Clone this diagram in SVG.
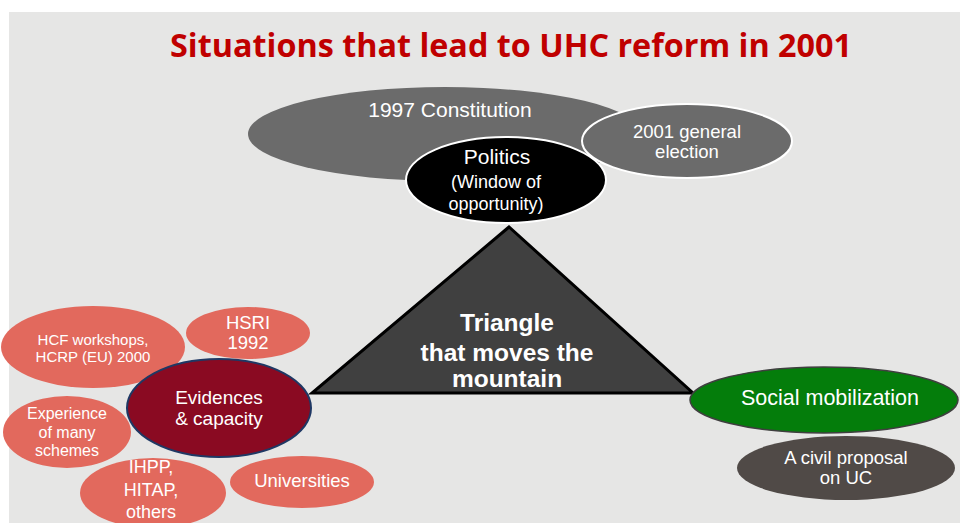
<svg xmlns="http://www.w3.org/2000/svg" width="960" height="523" viewBox="0 0 960 523">
  <style>
    .t { font-family: "Liberation Sans", Arial, sans-serif; fill: #ffffff; text-anchor: middle; }
    .salmon { fill: #e2695d; }
    .gray { fill: #6b6b6b; }
    .ring { stroke: #ffffff; stroke-width: 2; }
  </style>
  <!-- page background -->
  <rect x="0" y="0" width="960" height="523" fill="#ffffff"/>
  <rect x="9" y="12" width="951" height="511" fill="#e6e6e5"/>

  <text x="511" y="57" font-family="'Open Sans', 'Liberation Sans', sans-serif" font-weight="bold" font-size="32" fill="#c00000" text-anchor="middle" textLength="682" lengthAdjust="spacingAndGlyphs">Situations that lead to UHC reform in 2001</text>

  <g id="connectors"/>

  <!-- top: political context -->
  <g id="constitution">
    <ellipse class="gray" cx="445" cy="134" rx="197" ry="47"/>
    <text class="t" x="450" y="117" font-size="21">1997 Constitution</text>
  </g>
  <g id="election">
    <ellipse class="gray ring" cx="687" cy="141" rx="105" ry="37"/>
    <text class="t" x="687" y="138" font-size="18.5">2001 general</text>
    <text class="t" x="687" y="158" font-size="18.5">election</text>
  </g>

  <!-- central triangle -->
  <g id="triangle">
    <polygon points="509,227 312,393 693,393" fill="#404040" stroke="#000000" stroke-width="3" stroke-linejoin="miter"/>
    <text class="t" x="507" y="331" font-size="24.5" font-weight="bold">Triangle</text>
    <text class="t" x="507" y="361" font-size="24.5" font-weight="bold">that moves the</text>
    <text class="t" x="507" y="387" font-size="24.5" font-weight="bold">mountain</text>
  </g>

  <g id="politics">
    <ellipse cx="506" cy="180" rx="100" ry="43" fill="#000000" class="ring"/>
    <text class="t" x="497" y="164" font-size="21">Politics</text>
    <text class="t" x="496" y="188" font-size="18">(Window of</text>
    <text class="t" x="496" y="210" font-size="18">opportunity)</text>
  </g>

  <!-- left: evidence cluster -->
  <g id="hcf">
    <ellipse class="salmon" cx="93" cy="347" rx="92" ry="41"/>
    <text class="t" x="93" y="345" font-size="15">HCF workshops,</text>
    <text class="t" x="93" y="362" font-size="15">HCRP (EU) 2000</text>
  </g>
  <g id="hsri">
    <ellipse class="salmon" cx="248" cy="333" rx="62" ry="26"/>
    <text class="t" x="248" y="329" font-size="18.5">HSRI</text>
    <text class="t" x="248" y="349" font-size="18.5">1992</text>
  </g>
  <g id="experience">
    <ellipse class="salmon" cx="67" cy="432" rx="64" ry="36"/>
    <text class="t" x="67" y="419" font-size="16">Experience</text>
    <text class="t" x="67" y="438" font-size="16">of many</text>
    <text class="t" x="67" y="456" font-size="16">schemes</text>
  </g>
  <g id="ihpp">
    <ellipse class="salmon" cx="153" cy="493" rx="73" ry="35"/>
    <text class="t" x="151" y="473" font-size="18">IHPP,</text>
    <text class="t" x="151" y="496" font-size="18">HITAP,</text>
    <text class="t" x="151" y="518" font-size="18">others</text>
  </g>
  <g id="universities">
    <ellipse class="salmon" cx="302" cy="482" rx="72" ry="26"/>
    <text class="t" x="302" y="487" font-size="18.5">Universities</text>
  </g>
  <g id="evidences">
    <ellipse cx="219" cy="408" rx="92" ry="49" fill="#8a0a22" stroke="#1f3864" stroke-width="2"/>
    <text class="t" x="219" y="404" font-size="19">Evidences</text>
    <text class="t" x="219" y="425" font-size="19">&amp; capacity</text>
  </g>

  <!-- right: civil society -->
  <g id="civil-proposal">
    <ellipse cx="846" cy="468" rx="109" ry="32" fill="#504a47"/>
    <text class="t" x="846" y="464" font-size="18.5">A civil proposal</text>
    <text class="t" x="846" y="484" font-size="18.5">on UC</text>
  </g>
  <g id="social">
    <ellipse cx="824" cy="400" rx="134" ry="33" fill="#047d0b" stroke="#3f3f3f" stroke-width="1.5"/>
    <text class="t" x="830" y="405" font-size="21.5">Social mobilization</text>
  </g>
</svg>
